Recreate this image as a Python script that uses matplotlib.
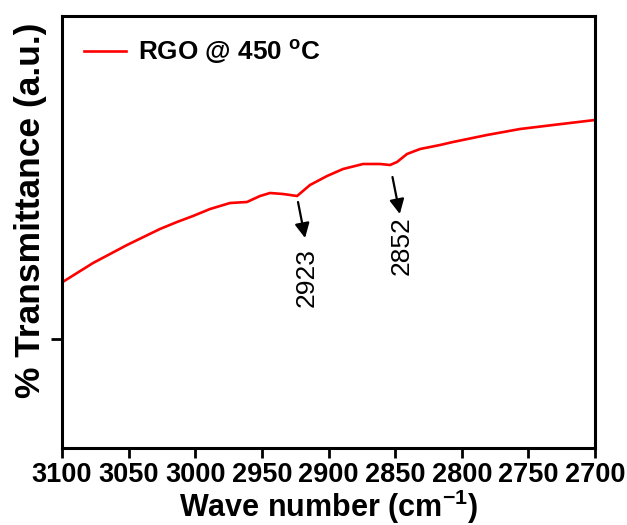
import numpy as np
import matplotlib.pyplot as plt

plt.rcParams['font.family'] = ['Liberation Sans', 'DejaVu Sans']

############################# Data #############################
wavenumber = np.array([3099.5, 3076.7, 3051.2, 3026.5, 3013.7, 3001.7, 2988.9, 2973.9,
                       2961.2, 2951.4, 2943.9, 2934.1, 2923.6, 2913.9, 2901.1, 2889.1,
                       2874.1, 2861.3, 2853.8, 2848.6, 2841.1, 2831.3, 2816.3, 2806.6,
                       2781.1, 2756.3, 2731.5, 2700.0])
transmittance = np.array([166, 185, 203, 219, 226, 232, 239, 245,
                          246, 252, 255, 254, 252, 263, 272, 279,
                          284, 284, 283, 286, 294, 299, 303, 306,
                          313, 319, 323, 328])
peak_labels = ['2923', '2852']
xticks = [3100, 3050, 3000, 2950, 2900, 2850, 2800, 2750, 2700]

############################# Plot ####################################
fig = plt.figure(figsize=(6.27, 5.25), dpi=100)
ax = fig.add_axes([0.0989, 0.1467, 0.8501, 0.8228])
ax.plot(wavenumber, transmittance, '-', color='#ff0000', lw=1.9, label='RGO @ 450 $\\mathregular{^o}$C')

# arrows + peak labels
arr = dict(arrowstyle='-|>', color='k', lw=1.6, mutation_scale=22, shrinkA=0, shrinkB=0)
ax.annotate('', xy=(2917.6, 210), xytext=(2922.9, 246), arrowprops=arr)
ax.annotate('', xy=(2846.5, 234), xytext=(2852.0, 271), arrowprops=arr)
ax.text(2916.4, 170, peak_labels[0], rotation=90, ha='center', va='center', fontsize=19)
ax.text(2845.1, 202, peak_labels[1], rotation=90, ha='center', va='center', fontsize=19)

ax.set_xlim(3100, 2700)
ax.set_ylim(0, 432)
ax.set_xticks(xticks)
ax.set_yticks([109])
ax.set_yticklabels([])
ax.tick_params(axis='x', direction='out', length=7, width=2, labelsize=19.5, pad=3)
ax.tick_params(axis='y', direction='out', length=8, width=2)
for lab in ax.get_xticklabels():
    lab.set_fontweight('bold')
for s in ax.spines.values():
    s.set_linewidth(2.2)

ax.set_xlabel('Wave number (cm$\\mathregular{^{-1}}$)', fontsize=22, fontweight='bold', labelpad=0)
ax.set_ylabel('% Transmittance (a.u.)', fontsize=25.5, fontweight='bold')
ax.yaxis.set_label_coords(-0.028, 0.55)

leg = ax.legend(loc='upper left', frameon=False, prop={'size': 18.8, 'weight': 'bold'},
                handlelength=1.6, handletextpad=0.45, borderaxespad=0.45)

plt.savefig('out.png', dpi=100)
